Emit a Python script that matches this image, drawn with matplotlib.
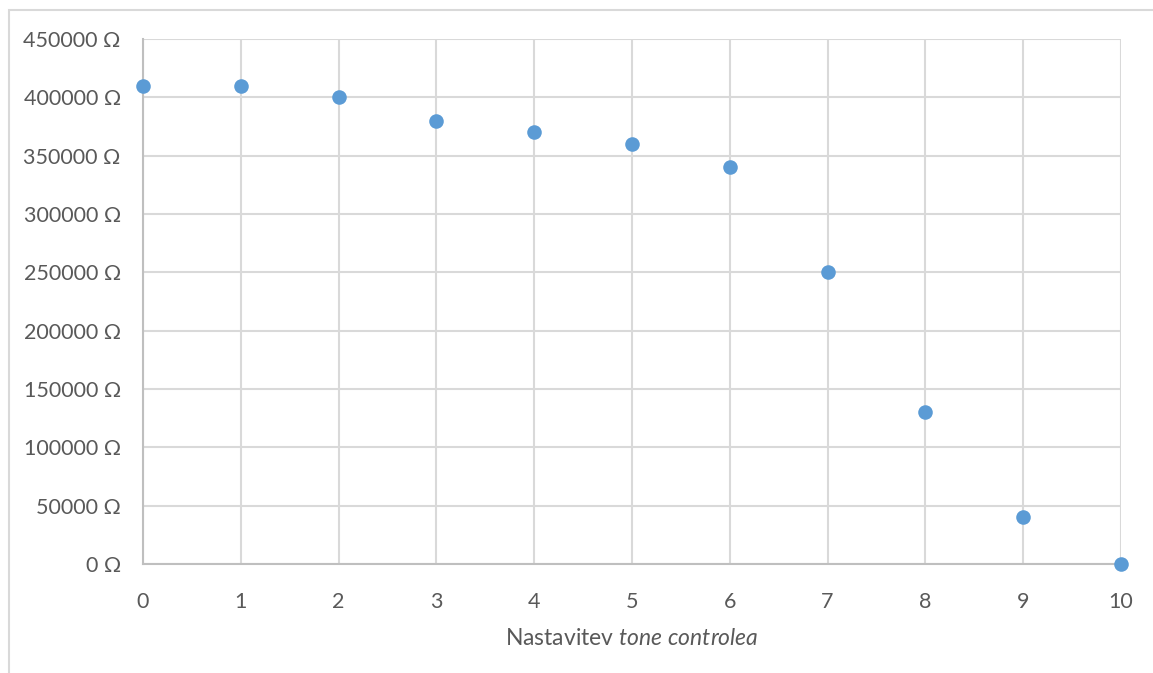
#!/usr/bin/env python3

import matplotlib
matplotlib.use('Agg')
import matplotlib.pyplot as plt
from matplotlib.patches import Rectangle

setting = [0, 1, 2, 3, 4, 5, 6, 7, 8, 9, 10]
resistance = [410000, 410000, 400000, 380000, 370000, 360000, 340000,
              250000, 130000, 40000, 0]
y_ticks = [0, 50000, 100000, 150000, 200000, 250000, 300000, 350000,
           400000, 450000]


def main():
    plt.rcParams['font.family'] = ['Lato', 'DejaVu Sans']
    plt.rcParams['mathtext.fontset'] = 'custom'
    plt.rcParams['mathtext.rm'] = 'Lato'
    plt.rcParams['mathtext.it'] = 'Lato:italic'
    fig = plt.figure(figsize=(11.53, 6.73), dpi=100)
    ax = fig.add_axes([143/1153, 1 - 564/673, (1121 - 143)/1153, (564 - 39)/673])

    # outer chart border like Excel
    fig.patches.append(Rectangle((9/1153, -0.01), 1.0, 1 - 10/673 + 0.01,
                                 transform=fig.transFigure, fill=False,
                                 edgecolor='#D9D9D9', linewidth=1.5))

    ax.scatter(setting, resistance, s=110, color='#5B9BD5', zorder=3,
               clip_on=False, linewidths=0)

    ax.set_xlim(0, 10)
    ax.set_ylim(0, 450000)
    ax.set_xticks(range(0, 11))
    ax.set_yticks(y_ticks)
    ax.set_yticklabels(['{} Ω'.format(v) for v in y_ticks])
    ax.grid(color='#D9D9D9', linewidth=1.5)
    ax.set_axisbelow(True)
    for s in ['top', 'right']:
        ax.spines[s].set_visible(False)
    for s in ['left', 'bottom']:
        ax.spines[s].set_color('#BFBFBF')
        ax.spines[s].set_linewidth(1.5)
    ax.tick_params(length=0, labelsize=15.5, colors='#595959')
    ax.tick_params(axis='y', pad=16)
    ax.tick_params(axis='x', pad=20)

    ax.set_xlabel('Nastavitev $\\it{tone\\ controlea}$', fontsize=16.5,
                  color='#595959', labelpad=12)

    fig.savefig('out.png', dpi=100)


if __name__ == '__main__':
    main()
